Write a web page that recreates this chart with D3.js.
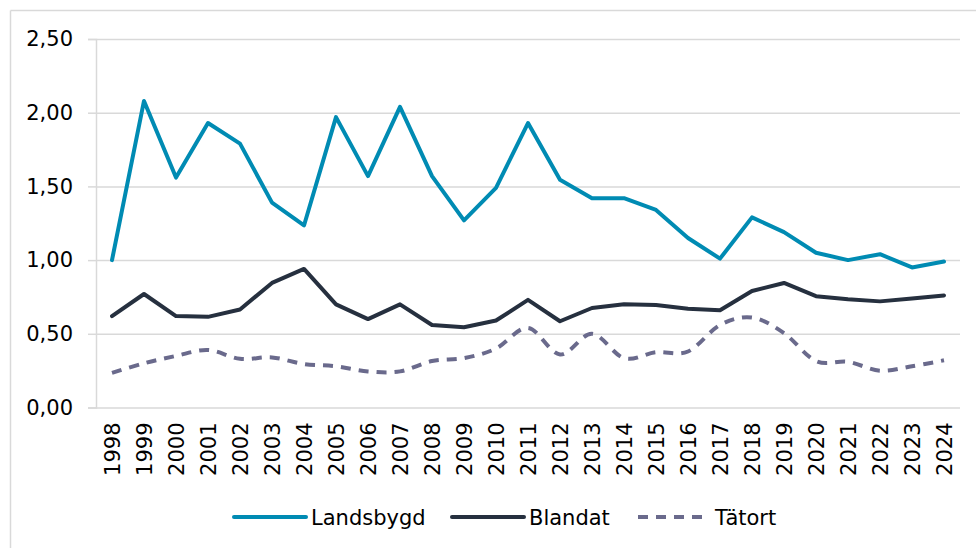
<!DOCTYPE html>
<html>
<head>
<meta charset="utf-8">
<script src="https://cdn.jsdelivr.net/npm/d3@7"></script>
<style>
  body { margin: 0; background: #fff; }
  svg { display: block; }
  text { font-family: "DejaVu Sans", sans-serif; fill: #000; }
</style>
</head>
<body>
<figure style="margin:0"></figure>
<script>
const years = d3.range(1998, 2025).map(String);

const landsbygd = [1.0, 2.08, 1.56, 1.93, 1.79, 1.39, 1.235, 1.97, 1.57, 2.04, 1.57, 1.27, 1.49, 1.93, 1.545, 1.42, 1.42, 1.34, 1.15, 1.01, 1.29, 1.19, 1.05, 1.0, 1.04, 0.95, 0.99];
const blandat = [0.62, 0.77, 0.62, 0.615, 0.665, 0.845, 0.94, 0.7, 0.6, 0.7, 0.56, 0.545, 0.59, 0.73, 0.585, 0.675, 0.7, 0.695, 0.67, 0.66, 0.79, 0.845, 0.755, 0.735, 0.72, 0.74, 0.76];
const tatort = [0.235, 0.3, 0.35, 0.39, 0.33, 0.34, 0.295, 0.28, 0.245, 0.245, 0.315, 0.335, 0.4, 0.54, 0.36, 0.5, 0.335, 0.375, 0.38, 0.56, 0.61, 0.505, 0.315, 0.31, 0.25, 0.28, 0.32];

const yTicks = [0, 0.5, 1, 1.5, 2, 2.5];

const series = [
  { name: "Landsbygd", values: landsbygd, colour: "#008bb3", dash: null, smooth: false },
  { name: "Blandat", values: blandat, colour: "#26303f", dash: null, smooth: false },
  { name: "Tätort", values: tatort, colour: "#6a6a8c", dash: "10,8", smooth: true },
];

const width = 976;
const height = 549;
const margin = { top: 39, right: 16, bottom: 141, left: 96 };

const svg = d3.select("figure").append("svg")
  .attr("width", width).attr("height", height);

// outer frame (top and left edges only visible)
svg.append("line").attr("x1", 10.5).attr("x2", width).attr("y1", 10.5).attr("y2", 10.5)
  .attr("stroke", "#d9d9d9").attr("stroke-width", 1.5);
svg.append("line").attr("x1", 10.5).attr("x2", 10.5).attr("y1", 10.5).attr("y2", 548)
  .attr("stroke", "#d9d9d9").attr("stroke-width", 1.5);

const x = d3.scaleBand()
  .domain(years)
  .range([margin.left, width - margin.right]);

const y = d3.scaleLinear()
  .domain([0, 2.5])
  .range([height - margin.bottom - 0.5, margin.top]);

const fmt = (d) => d3.format(".2f")(d).replace(".", ",");

// y axis + gridlines
const yAxis = d3.axisLeft(y)
  .tickValues(yTicks)
  .tickSize(8)
  .tickPadding(15)
  .tickFormat(fmt);

const gy = svg.append("g")
  .attr("transform", `translate(${margin.left},0)`)
  .call(yAxis);
gy.select(".domain").attr("stroke", "#d9d9d9").attr("stroke-width", 1.5);
gy.selectAll(".tick line").attr("stroke", "#d9d9d9").attr("stroke-width", 1.5);
gy.selectAll(".tick text").style("font-size", "21px").attr("font-family", null).attr("fill", "#000");

gy.selectAll(".tick")
  .append("line")
  .attr("class", "grid")
  .attr("x1", 0)
  .attr("x2", width - margin.right - margin.left)
  .attr("stroke", "#d9d9d9")
  .attr("stroke-width", 1.5);

// x axis
const xAxis = d3.axisBottom(x).tickSize(0).tickPadding(0);
const gx = svg.append("g")
  .attr("transform", `translate(0,${y(0)})`)
  .call(xAxis);
gx.select(".domain").remove();
gx.selectAll(".tick text")
  .attr("font-family", null)
  .style("font-size", "21px")
  .attr("fill", "#000")
  .attr("transform", "rotate(-90)")
  .attr("text-anchor", "end")
  .attr("dy", "0.36em")
  .attr("x", -15)
  .attr("y", 0);

// lines
series.forEach((s) => {
  const line = d3.line()
    .x((d, i) => x(years[i]) + x.bandwidth() / 2)
    .y((d) => y(d))
    .curve(s.smooth ? d3.curveCatmullRom.alpha(0) : d3.curveLinear);

  svg.append("path")
    .datum(s.values)
    .attr("fill", "none")
    .attr("stroke", s.colour)
    .attr("stroke-width", 4)
    .attr("stroke-linejoin", "round")
    .attr("stroke-linecap", s.dash ? "butt" : "round")
    .attr("stroke-dasharray", s.dash)
    .attr("d", line);
});

// legend
const legendY = 517;
const legendX = [234, 452, 638];
const legend = svg.append("g");
series.forEach((s, i) => {
  const g = legend.append("g").attr("transform", `translate(${legendX[i]},${legendY})`);
  g.append("line")
    .attr("x1", 0).attr("x2", 72)
    .attr("stroke", s.colour)
    .attr("stroke-width", 4)
    .attr("stroke-linecap", s.dash ? "butt" : "round")
    .attr("stroke-dasharray", s.dash);
  g.append("text")
    .attr("x", 77)
    .attr("dy", "0.36em")
    .style("font-size", "21px")
    .text(s.name);
});
</script>
</body>
</html>
